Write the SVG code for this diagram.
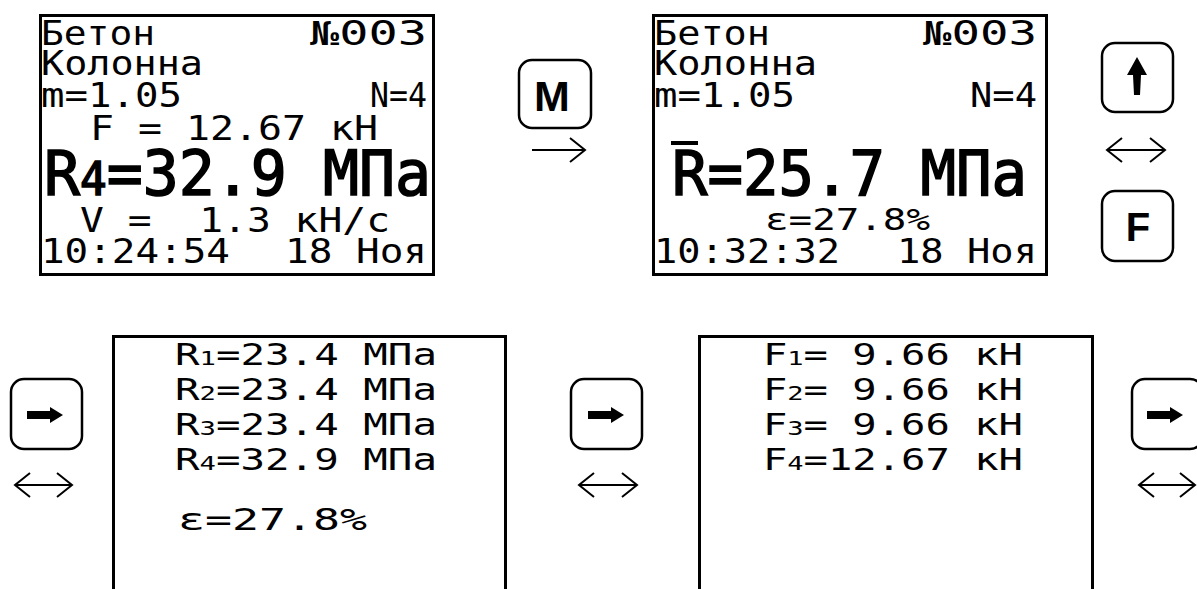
<svg xmlns="http://www.w3.org/2000/svg" width="1197" height="589" viewBox="0 0 1197 589">
<style>
.scr{fill:#fff;stroke:#000;stroke-width:3}
.btn{fill:#fff;stroke:#000;stroke-width:2.5}
.lcd{font-family:"DejaVu Sans Mono",monospace;font-size:33px;fill:#000}
.big{font-family:"DejaVu Sans Mono",monospace;font-size:62px;fill:#000;stroke:#000;stroke-width:1.6}
.sm{font-family:"DejaVu Sans Mono",monospace;font-size:30px;fill:#000}
.key{font-family:"Liberation Sans",Arial,sans-serif;font-weight:bold;fill:#000;text-anchor:middle}
.con{fill:none;stroke:#000;stroke-width:2}
</style>
<defs>
<marker id="chev" markerUnits="userSpaceOnUse" viewBox="-17 -14 20 28" refX="0" refY="0" markerWidth="20" markerHeight="28" orient="auto-start-reverse" overflow="visible">
<path d="M-15,-12 L0,0 L-15,12" fill="none" stroke="#000" stroke-width="2"/>
</marker>
<path id="rarr" d="M0,-4 H23 V-8 L36,0 L23,8 V4 H0 Z"/>
</defs>
<rect width="1197" height="589" fill="#fff"/>

<g id="screen-main">
<rect class="scr" x="40.5" y="15.5" width="393" height="259"/>
<text class="lcd" x="41" y="45" textLength="114" lengthAdjust="spacingAndGlyphs">Бетон</text>
<text class="lcd" x="310" y="45" textLength="117" lengthAdjust="spacingAndGlyphs">№003</text>
<text class="lcd" x="41" y="75" textLength="162" lengthAdjust="spacingAndGlyphs">Колонна</text>
<text class="lcd" x="41" y="107" textLength="141" lengthAdjust="spacingAndGlyphs">m=1.05</text>
<text class="lcd" x="370" y="107" textLength="57" lengthAdjust="spacingAndGlyphs">N=4</text>
<text class="lcd" x="90" y="140" textLength="288" lengthAdjust="spacingAndGlyphs" xml:space="preserve">F = 12.67 кН</text>
<text class="big" x="44" y="195" textLength="387" lengthAdjust="spacingAndGlyphs">R<tspan font-size="46">4</tspan>=32.9 МПа</text>
<text class="lcd" x="80" y="232" textLength="310" lengthAdjust="spacingAndGlyphs" xml:space="preserve">V =  1.3 кН/с</text>
<text class="lcd" x="41" y="263" textLength="189" lengthAdjust="spacingAndGlyphs">10:24:54</text>
<text class="lcd" x="285" y="263" textLength="142" lengthAdjust="spacingAndGlyphs">18 Ноя</text>
</g>

<g id="screen-mean">
<rect class="scr" x="653.5" y="15.5" width="393" height="259"/>
<text class="lcd" x="654" y="45" textLength="116" lengthAdjust="spacingAndGlyphs">Бетон</text>
<text class="lcd" x="923" y="45" textLength="114" lengthAdjust="spacingAndGlyphs">№003</text>
<text class="lcd" x="654" y="75" textLength="163" lengthAdjust="spacingAndGlyphs">Колонна</text>
<text class="lcd" x="654" y="107" textLength="141" lengthAdjust="spacingAndGlyphs">m=1.05</text>
<text class="lcd" x="970" y="107" textLength="67" lengthAdjust="spacingAndGlyphs">N=4</text>
<rect x="671" y="141" width="27" height="4" fill="#000"/>
<text class="big" x="672" y="195" textLength="355" lengthAdjust="spacingAndGlyphs">R=25.7 МПа</text>
<text class="sm" x="765" y="230" textLength="165" lengthAdjust="spacingAndGlyphs">ε=27.8%</text>
<text class="lcd" x="654" y="263" textLength="186" lengthAdjust="spacingAndGlyphs">10:32:32</text>
<text class="lcd" x="897" y="263" textLength="140" lengthAdjust="spacingAndGlyphs">18 Ноя</text>
</g>

<g id="screen-r">
<path class="scr" d="M113.5,592 V336.5 H505.5 V592"/>
<text class="sm" x="175" y="365" textLength="262" lengthAdjust="spacingAndGlyphs">R<tspan font-size="20">1</tspan>=23.4 МПа</text>
<text class="sm" x="175" y="400" textLength="262" lengthAdjust="spacingAndGlyphs">R<tspan font-size="20">2</tspan>=23.4 МПа</text>
<text class="sm" x="175" y="435" textLength="262" lengthAdjust="spacingAndGlyphs">R<tspan font-size="20">3</tspan>=23.4 МПа</text>
<text class="sm" x="175" y="470" textLength="262" lengthAdjust="spacingAndGlyphs">R<tspan font-size="20">4</tspan>=32.9 МПа</text>
<text class="sm" x="178" y="530" textLength="189" lengthAdjust="spacingAndGlyphs">ε=27.8%</text>
</g>

<g id="screen-f">
<path class="scr" d="M699.5,592 V336.5 H1092.5 V592"/>
<text class="sm" x="763" y="365" textLength="260" lengthAdjust="spacingAndGlyphs" xml:space="preserve">F<tspan font-size="20">1</tspan>= 9.66 кН</text>
<text class="sm" x="763" y="400" textLength="260" lengthAdjust="spacingAndGlyphs" xml:space="preserve">F<tspan font-size="20">2</tspan>= 9.66 кН</text>
<text class="sm" x="763" y="435" textLength="260" lengthAdjust="spacingAndGlyphs" xml:space="preserve">F<tspan font-size="20">3</tspan>= 9.66 кН</text>
<text class="sm" x="763" y="470" textLength="260" lengthAdjust="spacingAndGlyphs">F<tspan font-size="20">4</tspan>=12.67 кН</text>
</g>

<g id="key-m">
<rect class="btn" x="519" y="60" width="72" height="68" rx="13"/>
<text class="key" x="552" y="111" font-size="43">M</text>
</g>
<g id="key-up">
<rect class="btn" x="1102" y="43" width="71" height="69" rx="13"/>
<path d="M1137,57 L1127,75 L1133,75 L1134,95 L1140,95 L1141,75 L1147,75 Z" fill="#000"/>
</g>
<g id="key-f">
<rect class="btn" x="1102" y="191" width="71" height="70" rx="13"/>
<text class="key" x="1138" y="241" font-size="40">F</text>
</g>
<g id="key-right-1">
<rect class="btn" x="11" y="379" width="71" height="70" rx="13"/>
<use href="#rarr" transform="translate(27,415)"/>
</g>
<g id="key-right-2">
<rect class="btn" x="571" y="379" width="71" height="70" rx="13"/>
<use href="#rarr" transform="translate(588,415)"/>
</g>
<g id="key-right-3">
<rect class="btn" x="1132" y="379" width="71" height="70" rx="13"/>
<use href="#rarr" transform="translate(1147,415)"/>
</g>

<g id="connectors">
<path class="con" d="M532,150 H585" marker-end="url(#chev)"/>
<path class="con" d="M1107,150 H1165" marker-start="url(#chev)" marker-end="url(#chev)"/>
<path class="con" d="M15,485 H72" marker-start="url(#chev)" marker-end="url(#chev)"/>
<path class="con" d="M579,485 H637" marker-start="url(#chev)" marker-end="url(#chev)"/>
<path class="con" d="M1139,485 H1195" marker-start="url(#chev)" marker-end="url(#chev)"/>
</g>
</svg>
